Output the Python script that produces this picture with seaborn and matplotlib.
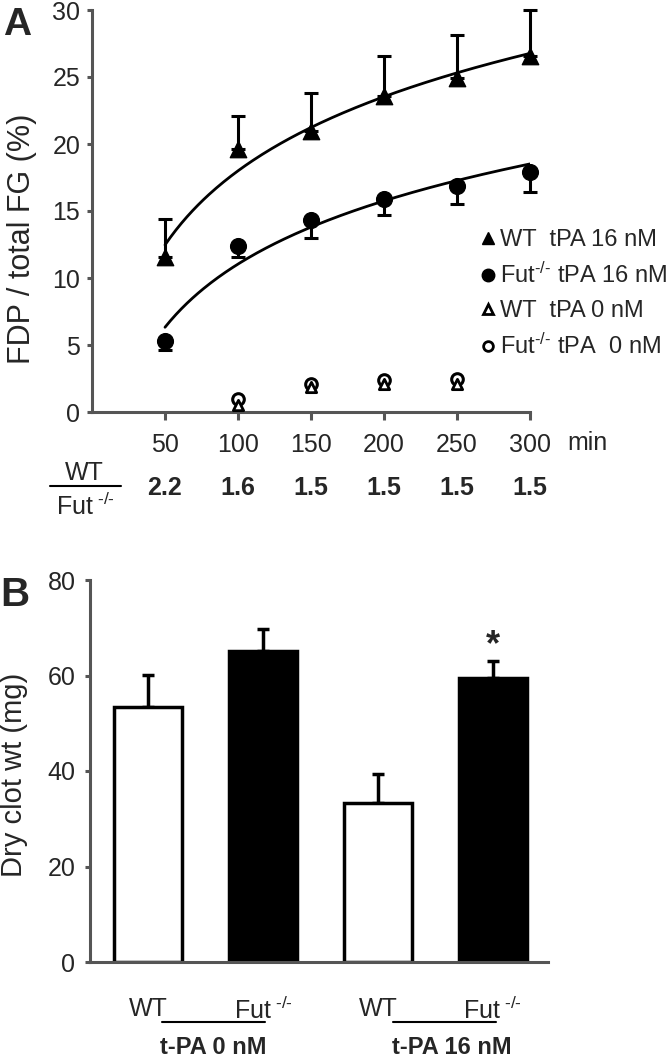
import numpy as np
import pandas as pd
import matplotlib
matplotlib.use('Agg')
import matplotlib.pyplot as plt
import seaborn as sns
from matplotlib.lines import Line2D
from matplotlib import transforms

# Panel A: FDP release over time
minutes = [50, 100, 150, 200, 250, 300]
wt_16 = [11.6, 19.6, 21.0, 23.6, 24.9, 26.6]
wt_16_err = [2.8, 2.5, 2.8, 3.0, 3.2, 3.4]
fut_16 = [5.3, 12.4, 14.3, 15.9, 16.9, 17.9]
fut_16_err = [0.7, 0.8, 1.3, 1.2, 1.4, 1.5]
minutes_0 = [100, 150, 200, 250]
wt_0 = [0.5, 1.9, 2.1, 2.1]
fut_0 = [1.0, 2.1, 2.4, 2.5]
ratio = ['2.2', '1.6', '1.5', '1.5', '1.5', '1.5']
xticks_a = [50, 100, 150, 200, 250, 300]

# Panel B: dry clot weight
cond = ['WT_0', 'Fut_0', 'WT_16', 'Fut_16']
geno = ['WT', 'Fut', 'WT', 'Fut']
clot_wt = [53.4, 65.2, 33.3, 59.5]
clot_err = [6.7, 4.6, 6.1, 3.5]
FUT = r'Fut$^{\text{ -/-}}$'
bar_labels = ['WT', FUT, 'WT', FUT]
group_names = ['t-PA 0 nM', 't-PA 16 nM']

sns.set_theme(style='white')
plt.rcParams['font.family'] = ['Liberation Sans', 'DejaVu Sans']
plt.rcParams['mathtext.fontset'] = 'custom'
plt.rcParams['mathtext.rm'] = 'Liberation Sans'
plt.rcParams['mathtext.it'] = 'Liberation Sans:italic'
plt.rcParams['mathtext.bf'] = 'Liberation Sans:bold'

W, H = 666, 1059
fig = plt.figure(figsize=(W / 100, H / 100), dpi=100)
axA = fig.add_axes([92 / W, 1 - 412 / H, 438 / W, 402 / H])
axB = fig.add_axes([90 / W, 1 - 962 / H, 458 / W, 382 / H])

spine_col = '#555555'
for ax in (axA, axB):
    for s in ('top', 'right'):
        ax.spines[s].set_visible(False)
    for s in ('left', 'bottom'):
        ax.spines[s].set_color(spine_col)
        ax.spines[s].set_linewidth(2.2)

# ---- Panel A ----
xs = np.linspace(50, 300, 200)
for yv in (wt_16, fut_16):
    coef = np.polyfit(np.log(minutes), yv, 1)
    axA.plot(xs, coef[0] * np.log(xs) + coef[1], color='black', lw=2, zorder=2)

axA.errorbar(minutes, wt_16, yerr=[np.zeros(6), wt_16_err], fmt='none', ecolor='black',
             elinewidth=2.2, capsize=5, capthick=2.2, clip_on=False, zorder=2)
axA.errorbar(minutes, fut_16, yerr=[fut_16_err, np.zeros(6)], fmt='none', ecolor='black',
             elinewidth=2.2, capsize=5, capthick=2.2, clip_on=False, zorder=2)

sns.scatterplot(x=minutes, y=wt_16, marker='^', s=140, color='black', edgecolor='black',
                ax=axA, zorder=3, clip_on=False)
sns.scatterplot(x=minutes, y=fut_16, marker='o', s=130, color='black', edgecolor='black',
                ax=axA, zorder=3, clip_on=False)
sns.scatterplot(x=minutes_0, y=fut_0, marker='o', s=70, color='white', edgecolor='black',
                linewidth=2.2, ax=axA, zorder=3, clip_on=False)
sns.scatterplot(x=minutes_0, y=wt_0, marker='^', s=55, color='white', edgecolor='black',
                linewidth=2.0, ax=axA, zorder=4, clip_on=False)

axA.set_xlim(0, 300)
axA.set_ylim(0, 30)
axA.set_xticks(xticks_a)
axA.set_yticks([0, 5, 10, 15, 20, 25, 30])
axA.tick_params(axis='x', direction='out', length=6, width=2.2, color=spine_col,
                labelsize=18, pad=9, bottom=True)
axA.tick_params(axis='y', direction='out', length=3.5, width=2.2, color=spine_col,
                labelsize=18, pad=5, left=True)
axA.set_ylabel('FDP / total FG (%)', fontsize=22)
axA.yaxis.set_label_coords(-0.125, 0.43)

handles = [
    Line2D([], [], ls='none', marker='^', ms=9, color='black'),
    Line2D([], [], ls='none', marker='o', ms=9, color='black'),
    Line2D([], [], ls='none', marker='^', ms=7, mfc='white', mec='black', mew=2),
    Line2D([], [], ls='none', marker='o', ms=7, mfc='white', mec='black', mew=2),
]
leg_labels = ['WT  tPA 16 nM', r'Fut$^{\text{-/-}}$ tPA 16 nM', 'WT  tPA 0 nM',
              r'Fut$^{\text{-/-}}$ tPA  0 nM']
fig.legend(handles, leg_labels, loc='upper left', bbox_to_anchor=(481 / W, 1 - 229 / H),
           bbox_transform=fig.transFigure, frameon=False, fontsize=17, handlelength=0.6,
           handletextpad=0.2, labelspacing=0.5, borderpad=0, borderaxespad=0)

# ratio row under the time axis
transA = transforms.blended_transform_factory(axA.transData, fig.transFigure)
for m, r in zip(minutes, ratio):
    axA.text(m, 1 - 488 / H, r, transform=transA, ha='center', va='center',
             fontsize=18, fontweight='bold')
fig.text(84 / W, 1 - 473 / H, 'WT', ha='center', va='center', fontsize=18)
fig.add_artist(Line2D([50 / W, 121 / W], [1 - 486 / H] * 2, transform=fig.transFigure,
                      color='black', lw=1.5))
fig.text(85 / W, 1 - 506 / H, FUT, ha='center', va='center', fontsize=18)
fig.text(587 / W, 1 - 443 / H, 'min', ha='center', va='center', fontsize=18)

# ---- Panel B ----
df = pd.DataFrame({'cond': cond, 'geno': geno, 'wt': clot_wt})
sns.barplot(data=df, x='cond', y='wt', hue='geno', palette={'WT': 'white', 'Fut': 'black'},
            dodge=False, width=0.59, edgecolor='black', linewidth=2.5, saturation=1,
            errorbar=None, legend=False, ax=axB, zorder=2)
axB.errorbar(range(4), clot_wt, yerr=[np.zeros(4), clot_err], fmt='none', ecolor='black',
             elinewidth=2.5, capsize=4.5, capthick=2.5, zorder=1)
axB.text(3, clot_wt[3] + clot_err[3] + 3.2, '*', ha='center', va='center',
         fontsize=26, fontweight='bold')

axB.set_xlim(-0.506, 3.48)
axB.set_ylim(0, 80)
axB.set_yticks([0, 20, 40, 60, 80])
axB.set_xticks(range(4))
axB.set_xticklabels(bar_labels)
axB.set_xlabel('')
axB.tick_params(axis='x', length=0, labelsize=18, pad=25)
axB.tick_params(axis='y', direction='out', length=3.5, width=2.2, color=spine_col,
                labelsize=18, pad=7, left=True)
axB.set_ylabel('Dry clot wt (mg)', fontsize=21)
axB.yaxis.set_label_coords(-0.135, 0.49)

transB = transforms.blended_transform_factory(axB.transData, fig.transFigure)
for (x0, x1), xc, name in zip([(0.12, 1.02), (2.13, 3.03)], [0.57, 2.64], group_names):
    axB.add_artist(Line2D([x0, x1], [1 - 1022 / H] * 2, transform=transB, color='black',
                          lw=1.5, clip_on=False))
    axB.text(xc, 1 - 1048 / H, name, transform=transB, ha='center', va='center',
             fontsize=17, fontweight='bold')

fig.text(17 / W, 1 - 25 / H, 'A', ha='center', va='center', fontsize=28, fontweight='bold')
fig.text(15 / W, 1 - 595 / H, 'B', ha='center', va='center', fontsize=29, fontweight='bold')

fig.savefig('out.png', dpi=100)
